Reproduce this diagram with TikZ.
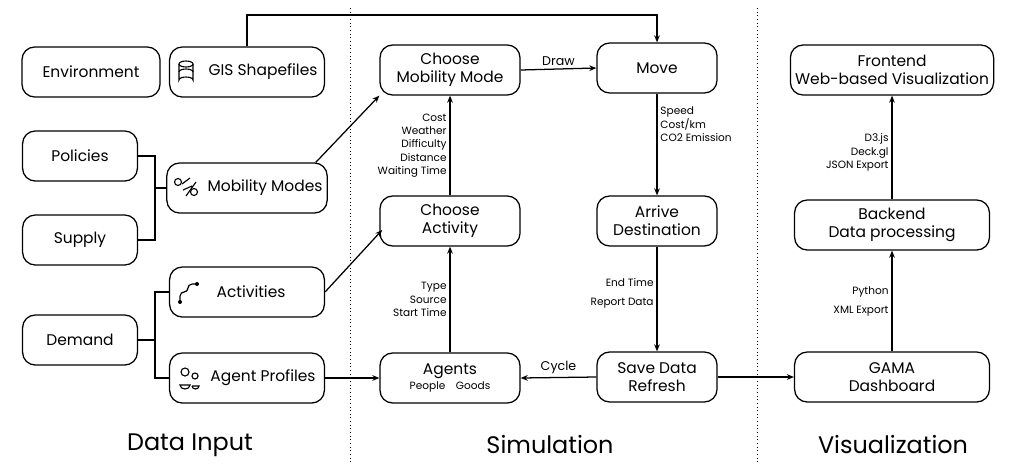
\documentclass[tikz,border=0pt]{standalone}
\usepackage{fontspec}
\setmainfont{Poppins}
\usetikzlibrary{positioning,arrows.meta}

\begin{document}
\begin{tikzpicture}[x=0.025cm,y=-0.025cm,line width=0.9pt,>={Stealth[length=5pt,width=4pt]},
    box/.style={draw,rounded corners=9pt,minimum height=1.25cm,align=center,font=\fontsize{11}{13}\selectfont},
    lbl/.style={font=\fontsize{7.5}{9.5}\selectfont,align=right,inner sep=2pt},
    ttl/.style={font=\fontsize{17}{18}\selectfont}
    ]
    \useasboundingbox (0,0) rectangle (1024,475);
    % dividers
    \draw[dotted,line width=0.6pt] (350,8) -- (350,465);
    \draw[dotted,line width=0.6pt] (757,8) -- (757,465);

    % data input
    \node[box,minimum width=3.45cm] (env) at (91,72) {Environment};
    \node[box,minimum width=3.87cm] (gis) at (247,72) {\hspace{0.8cm}GIS Shapefiles};
    \node[box,minimum width=2.87cm] (pol) at (80,156) {Policies};
    \node[box,minimum width=2.87cm] (sup) at (80,240) {Supply};
    \node[box,minimum width=3.87cm] (mob) at (247,188) {\hspace{0.9cm}Mobility Modes};
    \node[box,minimum width=2.87cm] (dem) at (80,340) {Demand};
    \node[box,minimum width=3.87cm] (act) at (247,292) {\hspace{0.2cm}Activities};
    \node[box,minimum width=3.87cm] (prof) at (247,378) {\hspace{0.8cm}Agent Profiles};

    % icons
    \begin{scope}[line width=0.8pt]
      \draw (186,64) ellipse (7 and 3);
      \draw (179,64) -- (179,80) arc (180:360:7 and 3) -- (193,64);
      \draw (179,72) arc (180:360:7 and 3);
      \draw (178,182) circle (3.5) (194,192) circle (3.5);
      \draw (182,184) -- (190,178) (183,190) -- (192,186) (186,196) -- (196,182);
      \draw[rounded corners=3pt] (180,301) -- (180,292) -- (188,292) -- (188,284) -- (196,284);
      \fill (180,302) circle (2) (197,284) circle (2);
      \draw (185,372) circle (4) (180,385) arc (180:0:5 and 4) -- cycle;
      \draw (195,376) circle (3) (192,386) -- (199,386) arc (0:180:3.5 and 3);
    \end{scope}

    % simulation
    \node[box,minimum width=3.5cm] (cmm) at (450,70) {Choose\\Mobility Mode};
    \node[box,minimum width=3.5cm] (cact) at (450,221) {Choose\\Activity};
    \node[box,minimum width=3.5cm] (agt) at (450,378) {Agents\\[-3pt]{\fontsize{7.5}{8}\selectfont People\quad Goods}};
    \node[box,minimum width=3cm] (move) at (657,68) {Move};
    \node[box,minimum width=3cm] (arr) at (657,221) {Arrive\\Destination};
    \node[box,minimum width=3cm] (save) at (657,377) {Save Data\\Refresh};

    % visualization
    \node[box,minimum width=4.87cm] (front) at (892,70) {Frontend\\Web-based Visualization};
    \node[box,minimum width=4.87cm] (back) at (892,225) {Backend\\Data processing};
    \node[box,minimum width=4.87cm] (gama) at (892,377) {GAMA\\Dashboard};

    % titles
    \node[ttl] (t1) at (190,445) {Data Input};
    \node[ttl] (t2) at (550,445) {Simulation};
    \node[ttl] (t3) at (893,445) {Visualization};

    % connectors
    \draw[->] (gis.north) |- (657,15) -- (move.north);
    \draw (pol.east) -| (155,156) |- (sup.east);
    \draw (155,188) -- (mob.west);
    \draw (dem.east) -- (155,340);
    \draw (act.west) -| (155,378) -- (prof.west);
    \draw[->] (mob.north east) ++(-12,0) -- (cmm.south west);
    \draw[->] (act.east) -- ([xshift=2pt]cact.west |- 0,230);
    \draw[->] (prof.east) -- (agt.west);
    \draw[->] (agt.north) -- (cact.north |- cact.south) node[lbl,pos=0.5,left] {Type\\Source\\Start Time};
    \draw[->] (cact.north) -- (cmm.south) node[lbl,pos=0.5,left] {Cost\\Weather\\Difficulty\\Distance\\Waiting Time};
    \draw[->] (cmm.east) -- (move.west) node[lbl,midway,above] {\fontsize{9}{10}\selectfont Draw};
    \draw[->] (move.south) -- (arr.north) node[lbl,pos=0.3,right,align=left] {Speed\\Cost/km\\CO2 Emission};
    \draw[->] (arr.south) -- (save.north) node[lbl,pos=0.45,left] {End Time\\[4pt]Report Data};
    \draw[->] (save.west) -- (agt.east) node[lbl,midway,above] {\fontsize{9}{10}\selectfont Cycle};
    \draw[->] (save.east) -- (gama.west);
    \draw[->] (gama.north) -- (back.south) node[lbl,pos=0.5,left] {Python\\[4pt]XML Export};
    \draw[->] (back.north) -- (front.south) node[lbl,pos=0.45,left] {D3.js\\Deck.gl\\JSON Export};
  \end{tikzpicture}
\end{document}
